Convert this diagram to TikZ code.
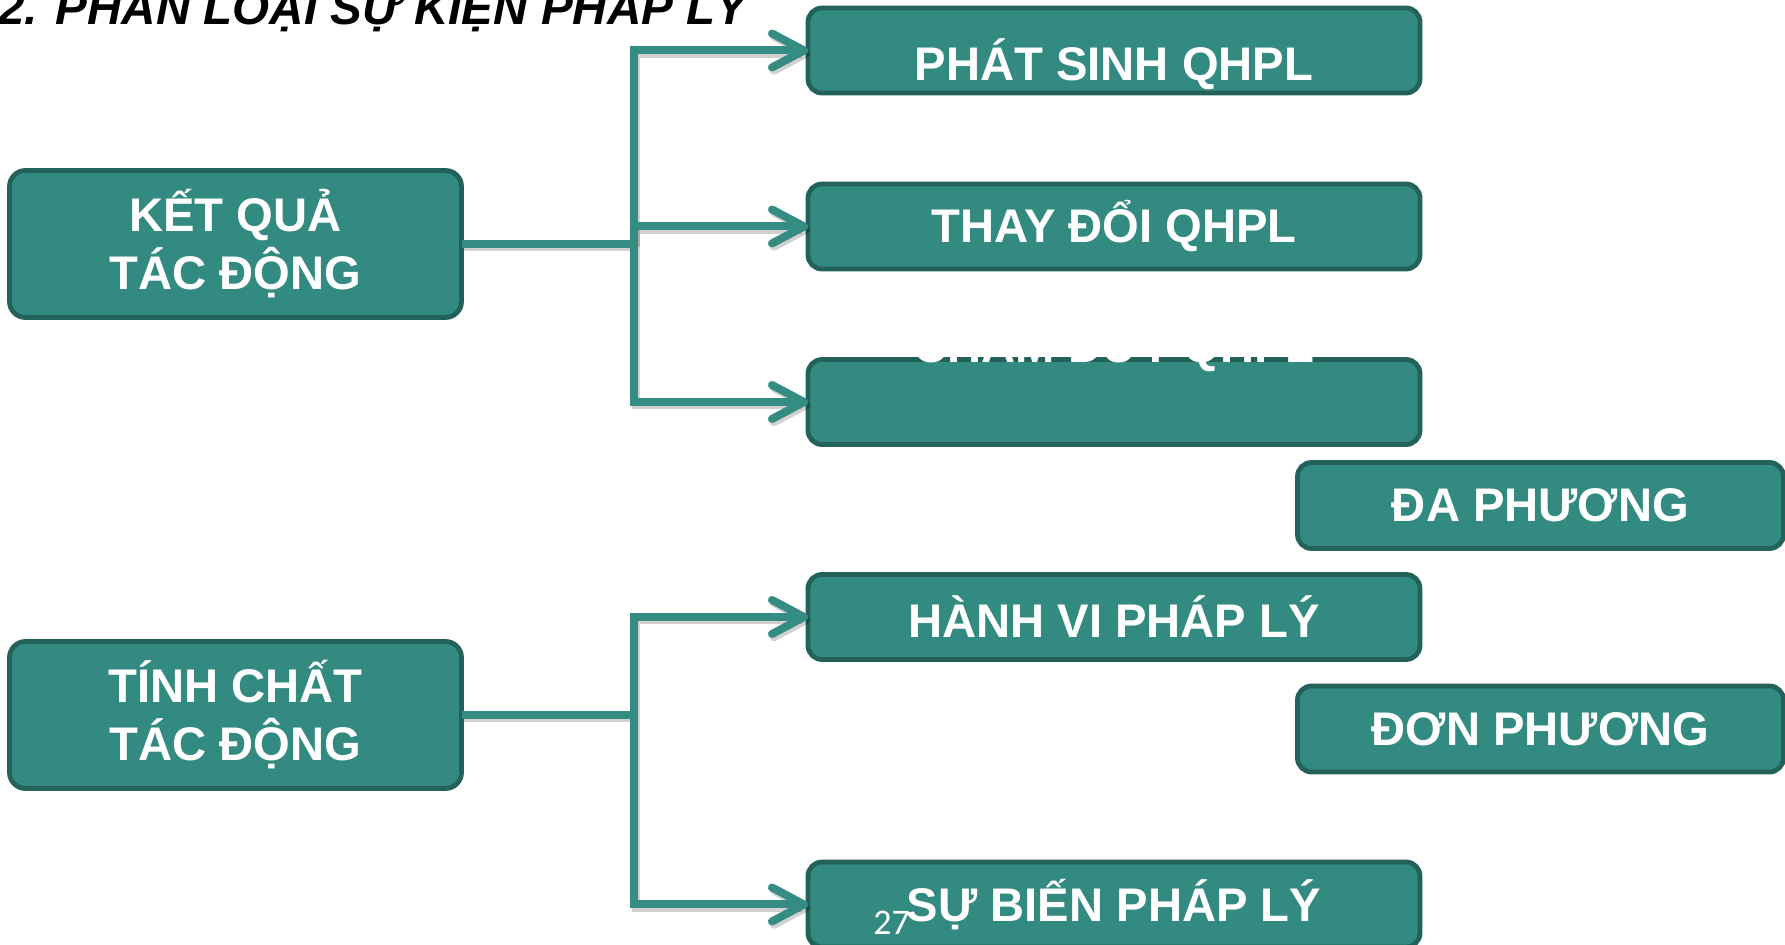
\documentclass[tikz,border=0pt]{standalone}
\usepackage{fontspec}
\setmainfont{Liberation Sans}
\newfontfamily\pagefont{Carlito}
\usetikzlibrary{arrows.meta}
\definecolor{boxfill}{RGB}{50,138,128}
\definecolor{boxline}{RGB}{34,98,90}
\definecolor{conncol}{RGB}{52,140,130}
\tikzset{
  box/.style={draw=boxline, fill=boxfill, line width=2.4pt, rounded corners=7pt,
    inner sep=0pt, outer sep=0pt, text=white, align=center,
    font=\bfseries\fontsize{23.6}{29}\selectfont},
  rbox/.style={box, minimum width=306pt, minimum height=42.5pt},
  sbox/.style={box, minimum width=243pt, minimum height=43pt},
  lbox/.style={box, minimum width=226pt, minimum height=73.5pt, rounded corners=8pt},
  lbl/.style={text=white, inner sep=0pt, font=\bfseries\fontsize{23.6}{29}\selectfont},
  trunk/.style={draw=conncol, line width=4pt},
  conn/.style={trunk, -{Straight Barb[length=16pt,width=17pt,round]}},
  shadowline/.style={draw=black, opacity=0.18, line width=4pt, transform canvas={xshift=1pt,yshift=-1.6pt}},
  shadowarr/.style={shadowline, -{Straight Barb[length=16pt,width=17pt,round]}},
}
\begin{document}
\begin{tikzpicture}[x=0.5pt,y=-0.5pt]
\useasboundingbox (0,0) rectangle (1785,945);
\clip (0,0) rectangle (1785,945);
\fill[white] (0,0) rectangle (1785,945);

\node[anchor=base west, inner sep=0pt, font=\bfseries\itshape\fontsize{23.8}{28}\selectfont] (title) at (-2,25) {2. PHÂN LOẠI SỰ KIỆN PHÁP LÝ};

\node[lbox] (L1) at (235.5,244) {KẾT QUẢ\\TÁC ĐỘNG};
\node[lbox] (L2) at (235.5,715) {TÍNH CHẤT\\TÁC ĐỘNG};

\coordinate (j1) at (634,244);
\coordinate (j2) at (634,715);

\node[rbox] (b1) at (1114,50.5) {};
\node[rbox] (b2) at (1114,226.5) {THAY ĐỔI QHPL};
\node[rbox] (b3) at (1114,402) {};
\node[sbox] (b4) at (1540.5,505.5) {ĐA PHƯƠNG};
\node[rbox] (b5) at (1114,617) {HÀNH VI PHÁP LÝ};
\node[sbox] (b6) at (1540.5,729) {ĐƠN PHƯƠNG};
\node[rbox] (b7) at (1114,904.5) {SỰ BIẾN PHÁP LÝ};

% connector shadows
\draw[shadowline] (L1.east) -- (j1);
\draw[shadowarr] (j1) |- (b1.west);
\draw[shadowarr] (j1) |- (b2.west);
\draw[shadowarr] (j1) |- (b3.west);
\draw[shadowline] (L2.east) -- (j2);
\draw[shadowarr] (j2) |- (b5.west);
\draw[shadowarr] (j2) |- (b7.west);

% connectors
\draw[trunk] (L1.east) -- (j1);
\draw[conn] (j1) |- (b1.west);
\draw[conn] (j1) |- (b2.west);
\draw[conn] (j1) |- (b3.west);
\draw[trunk] (L2.east) -- (j2);
\draw[conn] (j2) |- (b5.west);
\draw[conn] (j2) |- (b7.west);

\node[lbl] (b1t) at ([yshift=-7pt]b1.center) {PHÁT SINH QHPL};
\node[lbl, anchor=base] (b3t) at ([yshift=-1.5pt]b3.north) {CHẤM DỨT QHPL};
\node[anchor=base west, inner sep=0pt, text=white, font=\pagefont\fontsize{18}{20}\selectfont] (pg) at (873,935) {27};
\end{tikzpicture}
\end{document}
